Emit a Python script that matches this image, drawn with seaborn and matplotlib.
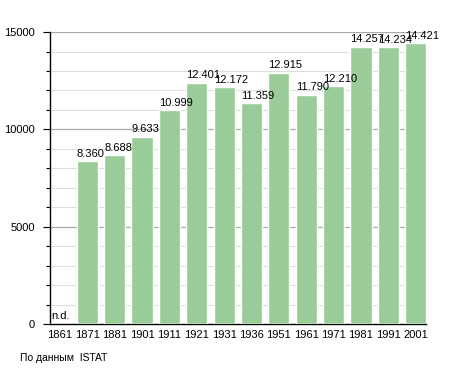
import matplotlib
matplotlib.use('Agg')
import matplotlib.pyplot as plt
from matplotlib.ticker import MultipleLocator
import pandas as pd
import seaborn as sns

# dati della popolazione (ISTAT), 1861 non disponibile
years = ['1861', '1871', '1881', '1901', '1911', '1921', '1931',
         '1936', '1951', '1961', '1971', '1981', '1991', '2001']
population = [None, 8360, 8688, 9633, 10999, 12401, 12172,
              11359, 12915, 11790, 12210, 14257, 14234, 14421]
source_text = 'По данным  ISTAT'

df = pd.DataFrame({'year': years, 'pop': [p if p is not None else 0 for p in population]})

sns.set_style('white')
plt.rcParams['font.family'] = ['Liberation Sans', 'DejaVu Sans']
plt.rcParams['text.color'] = 'black'
plt.rcParams['xtick.color'] = 'black'
plt.rcParams['ytick.color'] = 'black'

fig = plt.figure(figsize=(4.55, 3.73), dpi=100)
ax = fig.add_axes([0.11, 0.131, 0.826, 0.783])

bw = 0.77
sns.barplot(data=df, x='year', y='pop', order=years, color='#99cc99',
            saturation=1, width=bw, ax=ax, zorder=3)

ax.set_ylim(0, 15000)
ax.set_xlim(-0.36, 13.37)
ax.yaxis.set_major_locator(MultipleLocator(5000))
ax.yaxis.set_minor_locator(MultipleLocator(1000))
ax.grid(which='major', axis='y', color='#aaaaaa', linewidth=0.9, zorder=0)
ax.grid(which='minor', axis='y', color='#dddddd', linewidth=0.8, zorder=0)
ax.set_axisbelow(True)

for s in ['top', 'right']:
    ax.spines[s].set_visible(False)
for s in ['left', 'bottom']:
    ax.spines[s].set_color('black')
    ax.spines[s].set_linewidth(1)

ax.tick_params(axis='y', which='major', left=True, length=5, width=0.8, labelsize=8, pad=6)
ax.tick_params(axis='y', which='minor', left=True, length=3, width=0.8)
ax.tick_params(axis='x', bottom=False, labelsize=8, pad=1)
ax.set_xlabel('')
ax.set_ylabel('')

# etichette sopra le barre
for i, p in enumerate(population):
    left = i - bw / 2
    if p is None:
        ax.text(i - 0.33, 150, 'n.d.', fontsize=8, ha='left', va='bottom')
    else:
        lab = f'{p:,}'.replace(',', '.')
        ax.text(left, p + 120, lab, fontsize=8, ha='left', va='bottom', zorder=5)

fig.text(0.044, 0.04, source_text, fontsize=7.5, ha='left', va='center')

fig.savefig('out.png', dpi=100)
